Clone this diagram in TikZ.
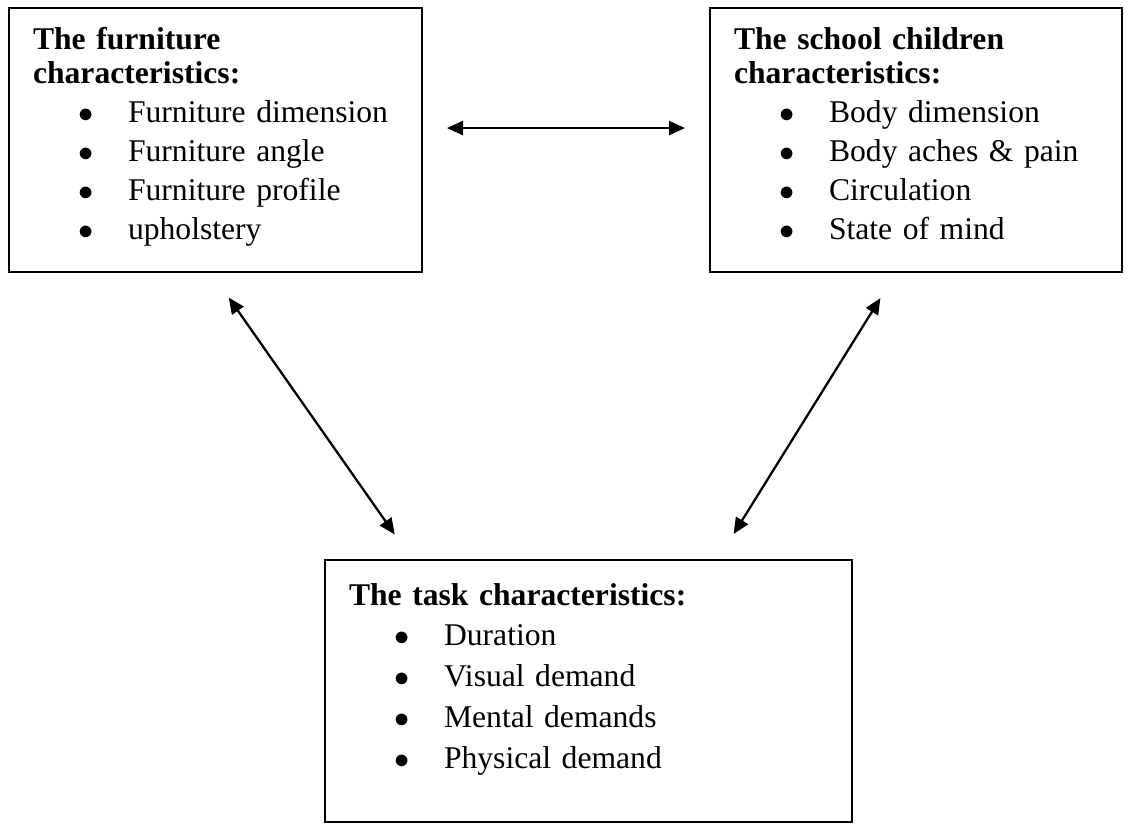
\documentclass[tikz,border=0pt]{standalone}
\usepackage{fontspec}
\setmainfont{Liberation Serif}
\usetikzlibrary{arrows.meta}
\newcommand{\bul}{\hspace*{0.9cm}\makebox[1cm][l]{$\bullet$}}

\begin{document}
\begin{tikzpicture}[
  x=0.02cm, y=-0.02cm,
  >={Triangle[length=0.32cm,width=0.28cm]},
  font=\fontsize{18}{19.4}\selectfont,
  chbox/.style={draw, line width=1.2pt, anchor=north west, align=left,
               inner xsep=0.48cm, inner ysep=0pt},
  link/.style={<->, line width=1.3pt}
]
  \useasboundingbox (0,0) rectangle (1129,823);
  \node[chbox, text width=7.3cm, text height=0.82cm, text depth=4.46cm] (furn) at (8,7)
    {\textbf{The furniture}\\\textbf{characteristics:}\\[2.8pt]
     \bul Furniture dimension\\[2.8pt]
     \bul Furniture angle\\[2.8pt]
     \bul Furniture profile\\[2.8pt]
     \bul upholstery};
  \node[chbox, text width=7.28cm, text height=0.82cm, text depth=4.46cm] (kids) at (709,7)
    {\textbf{The school children}\\\textbf{characteristics:}\\[2.8pt]
     \bul Body dimension\\[2.8pt]
     \bul Body aches \& pain\\[2.8pt]
     \bul Circulation\\[2.8pt]
     \bul State of mind};
  \node[chbox, text width=9.58cm, text height=0.9cm, text depth=4.34cm] (task) at (324,559)
    {\textbf{The task characteristics:}\\[3.9pt]
     \bul Duration\\[3.9pt]
     \bul Visual demand\\[3.9pt]
     \bul Mental demands\\[3.9pt]
     \bul Physical demand};
  \draw[link, shorten <=0.48cm, shorten >=0.48cm]
    ([yshift=0.24cm]furn.east) -- ([yshift=0.24cm]kids.west);
  \draw[link, shorten <=0.6cm, shorten >=0.6cm]
    ([xshift=-0.08cm]furn.south) -- ([xshift=1.76cm]task.north west);
  \draw[link, shorten <=0.59cm, shorten >=0.59cm]
    ([xshift=-0.4cm]kids.south) -- ([xshift=-2.7cm]task.north east);
\end{tikzpicture}
\end{document}
